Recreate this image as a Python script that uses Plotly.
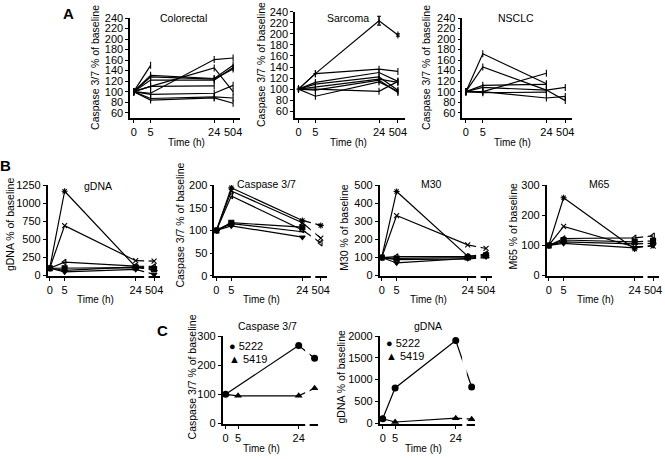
import plotly.graph_objects as go

W, H = 665, 459
FONT = "Liberation Sans, Arial, sans-serif"

# ---------------- data ----------------
TIMES = ["0", "5", "24", "504"]

# Panel A: caspase 3/7 % of baseline, one list per patient
COLORECTAL = [
    [100, 150, None, None],
    [100, 97, 161, 164],
    [100, 131, 125, 150],
    [100, 110, 145, 100],
    [100, 122, 122, 146],
    [100, 128, 124, 143],
    [100, 110, 111, None],
    [100, 95, 97, 112],
    [100, 87, 90, 88],
    [100, 84, 88, 78],
]
SARCOMA = [
    [100, 128, 224, 198],
    [100, 128, 136, 132],
    [100, 112, 130, 114],
    [100, 109, 122, 98],
    [100, 104, 118, 112],
    [100, 98, 116, 94],
    [100, 87, 113, 96],
    [100, 100, 96, 114],
]
SARCOMA_ERR = [0, 0, 8, 2]
NSCLC = [
    [100, 172, 115, None],
    [100, 147, 103, 83],
    [100, 112, 114, None],
    [100, 100, 135, None],
    [100, 108, 103, 108],
    [100, 100, 88, 91],
    [100, 98, 99, None],
]

# Panel B: one patient per list
B_GDNA = [
    [100, 1165, 120, 105],
    [100, 690, 205, 200],
    [100, 185, 130, 125],
    [100, 100, 110, 90],
    [100, 70, 118, 70],
    [100, 50, 85, 15],
]
B_CASPASE = [
    [100, 194, 122, 111],
    [100, 187, 117, 83],
    [100, 176, 101, 72],
    [100, 117, 107, None],
    [100, 115, 97, None],
    [100, 110, 85, None],
]
B_M30 = [
    [100, 465, 108, 110],
    [100, 332, 170, 150],
    [100, 105, 105, 120],
    [100, 95, 100, 112],
    [100, 88, 92, 100],
    [100, 70, 95, 105],
]
B_M65 = [
    [100, 258, 88, None],
    [100, 163, 95, 98],
    [100, 123, 125, 132],
    [100, 118, 112, 115],
    [100, 112, 105, 107],
    [100, 107, 92, 100],
]
B_SYMBOLS = ["asterisk-open", "x-thin-open", "triangle-left-open",
             "square", "line-ew-open", "triangle-down"]

# Panel C: two patients
C_TIMES = ["0", "5", "24", ""]
C_PATIENTS = ["5222", "5419"]
C_CASPASE = {"5222": [100, None, 268, 224], "5419": [100, 95, 95, 121]}
C_GDNA = {"5222": [100, 808, 1900, 830], "5419": [100, 25, 113, 90]}
C_SYMBOLS = {"5222": ("circle", "\u25cf"), "5419": ("triangle-up", "\u25b2")}

# time -> horizontal position (pixels from the 0 h tick) for each row
POS_A = [0, 17, 81, 100]
POS_B = [0, 15, 86.5, 105]
POS_C = [0, 12.5, 73.5, 89.5]

fig = go.Figure()
annotations = []
shapes = []


def px_x(p):
    return p / W


def px_y(p):
    return 1 - p / H


def add_axes(n, pos, labels, px0, xr, top, bottom, yr, yticks, nticks=4):
    ax = dict(
        domain=[px_x(px0 + xr[0]), px_x(px0 + xr[1])], range=xr,
        anchor=f"y{n}", showline=True, linecolor="black", linewidth=1.6,
        ticks="outside", ticklen=3, tickwidth=1.3, tickcolor="black",
        tickvals=pos[:nticks], ticktext=labels[:nticks],
        showgrid=False, zeroline=False, tickfont=dict(size=11),
    )
    ay = dict(
        domain=[px_y(bottom), px_y(top)], range=yr, anchor=f"x{n}",
        showline=True, linecolor="black", linewidth=1.6,
        ticks="outside", ticklen=3, tickwidth=1.3, tickcolor="black",
        tickvals=yticks, showgrid=False, zeroline=False,
        tickfont=dict(size=11),
    )
    fig.layout[f"xaxis{n}" if n > 1 else "xaxis"] = ax
    fig.layout[f"yaxis{n}" if n > 1 else "yaxis"] = ay


def text(x, y, s, size=10.5, angle=0, anchor="center", bold=False):
    annotations.append(dict(
        x=px_x(x), y=px_y(y), xref="paper", yref="paper", text=f"<b>{s}</b>" if bold else s,
        showarrow=False, textangle=angle, xanchor=anchor, yanchor="middle",
        font=dict(size=size, color="black"),
    ))


def axis_break(n, x0, x1):
    shapes.append(dict(
        type="rect", xref=f"x{n}", yref=f"y{n} domain", x0=x0, x1=x1,
        y0=-0.04, y1=1.02, fillcolor="white", line=dict(width=0), layer="above",
    ))


def add_series(n, pos, series, symbols=None, errs=None):
    for i, vals in enumerate(series):
        sym = symbols[i % len(symbols)] if symbols else "line-ns-open"
        tr = go.Scatter(
            x=pos, y=vals, xaxis=f"x{n}", yaxis=f"y{n}", mode="lines+markers",
            connectgaps=True, showlegend=False,
            line=dict(color="black", width=1.2),
            marker=dict(symbol=sym, size=5, color="black",
                        line=dict(color="black", width=1.1)),
        )
        if errs is not None and i == 0:
            tr.error_y = dict(type="data", array=errs, visible=True,
                              color="black", thickness=1.2, width=2)
        fig.add_trace(tr)


# ---------------- panel A ----------------
XR_A = [-3.5, 107]
a_panels = [
    (1, COLORECTAL, 133.5, 12.3, 114.5, [50.4, 240], "Colorectal", 184, 95, 63, 187),
    (2, SARCOMA, 299.3, 6, 114.5, [48, 240], "Sarcoma", 349, 261, 60, 350),
    (3, NSCLC, 467.7, 12.3, 114.5, [50.4, 240], "NSCLC", 518, 428, 63, 515),
]
for n, data, px0, top, bot, yr, title, tx, ytx, yty, timex in a_panels:
    add_axes(n, POS_A, TIMES, px0, XR_A, top, bot, yr, list(range(60, 241, 20)))
    add_series(n, POS_A, data, errs=SARCOMA_ERR if n == 2 else None)
    text(tx, 12, title)
    text(ytx, yty, "Caspase 3/7 % of baseline", angle=-90)
    text(timex, 140, "Time (h)", size=10)
text(68, 8, "A", size=15, bold=True)

# ---------------- panel B ----------------
XR_B = [-2, 111]
BRK_B = (95, 99.5)
b_panels = [
    (4, B_GDNA, 49, [-12, 1250], [0, 250, 500, 750, 1000, 1250], "gDNA", 97.7, 184,
     "gDNA % of baseline", 8.5, 223, 95),
    (5, B_CASPASE, 216.7, [-1.5, 200], [0, 50, 100, 150, 200], "Caspase 3/7", 266.7, 182,
     "Caspase 3/7 % of baseline", 180, 224, 262),
    (6, B_M30, 383, [-4, 500], [0, 100, 200, 300, 400, 500], "M30", 433, 182,
     "M30 % of baseline", 344.3, 227, 430),
    (7, B_M65, 551, [-2.5, 300], [0, 100, 200, 300], "M65", 601.7, 182,
     "M65 % of baseline", 515, 225, 598),
]
for n, data, px0, yr, yt, title, tx, ty, ytitle, ytx, yty, timex in b_panels:
    add_axes(n, POS_B, TIMES, px0, XR_B, 183.5, 277, yr, yt)
    add_series(n, POS_B, data, symbols=B_SYMBOLS)
    axis_break(n, *BRK_B)
    text(tx, ty, title)
    text(ytx, yty, ytitle, angle=-90)
    text(timex, 301, "Time (h)", size=10)
text(5, 163, "B", size=15, bold=True)

# ---------------- panel C ----------------
XR_C = [-3, 93]
BRK_C = (80, 84.5)
c_panels = [
    (8, C_CASPASE, 226, [-2, 300], [0, 100, 200, 300], "Caspase 3/7", 268.3, 328.3,
     "Caspase 3/7 % of baseline", 191.7, 380, 261.7, 227, 348),
    (9, C_GDNA, 384, [-22, 2000], [0, 500, 1000, 1500, 2000], "gDNA", 430, 328.3,
     "gDNA % of baseline", 341.7, 380, 425, 385, 345),
]
for n, data, px0, yr, yt, title, tx, ty, ytitle, ytx, yty, timex, lx, ly in c_panels:
    add_axes(n, POS_C, C_TIMES, px0, XR_C, 338.3, 428.3, yr, yt, nticks=3)
    for k, pid in enumerate(C_PATIENTS):
        fig.add_trace(go.Scatter(
            x=POS_C, y=data[pid], xaxis=f"x{n}", yaxis=f"y{n}", mode="lines+markers",
            connectgaps=True, showlegend=False, line=dict(color="black", width=1.2),
            marker=dict(symbol=C_SYMBOLS[pid][0], size=7, color="black"),
        ))
        text(lx, ly + k * 14, f"{C_SYMBOLS[pid][1]} {pid}", size=11, anchor="left")
    axis_break(n, *BRK_C)
    text(tx, ty, title)
    text(ytx, yty, ytitle, angle=-90)
    text(timex, 453.3, "Time (h)", size=10)
text(162, 332, "C", size=15, bold=True)

fig.update_layout(
    width=W, height=H, margin=dict(l=0, r=0, t=0, b=0),
    paper_bgcolor="white", plot_bgcolor="white",
    font=dict(family=FONT, color="black", size=11),
    annotations=annotations, shapes=shapes, showlegend=False,
)

# drop the page's default body margin so the figure sits at the window's corner
fig.write_html("out.html", config={"displayModeBar": False},
               post_script="document.body.style.margin='0';")
